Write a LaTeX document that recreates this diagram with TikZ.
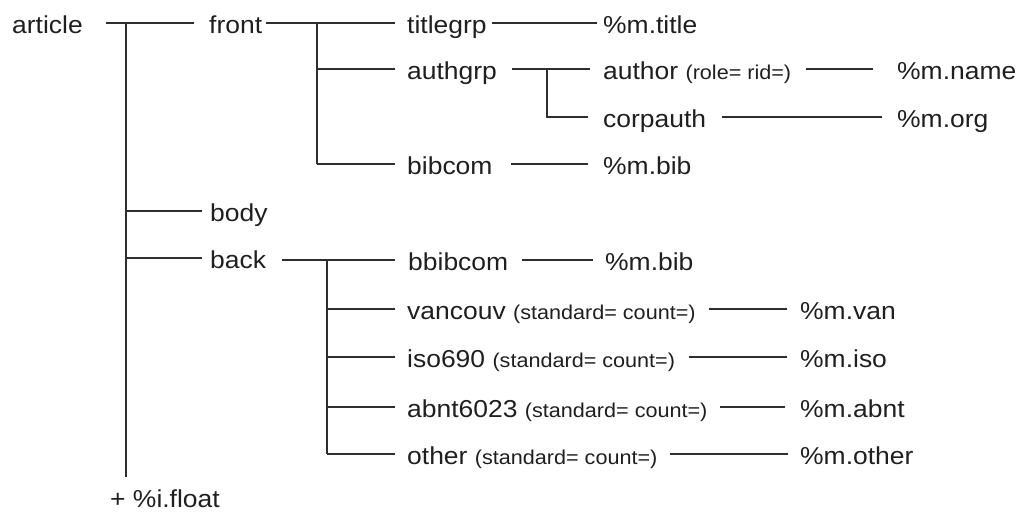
\documentclass[tikz,border=0pt]{standalone}
\usepackage{fontspec}
\setmainfont{Liberation Sans}[FakeStretch=1.08]
\newcommand\attr[1]{{\fontsize{20}{24}\selectfont #1}}
\begin{document}
\begin{tikzpicture}[x=1pt,y=-1pt,
  lbl/.style={anchor=west, inner sep=0pt, text height=21pt, text depth=0pt,
              text=black!88, font=\fontsize{24.5}{29}\selectfont},
  wire/.style={draw=black!82, line width=1.25pt}]
\useasboundingbox (0,0) rectangle (1031,515);

% element names
\node[lbl] (article)  at (12,23)   {article};
\node[lbl] (front)    at (209,23)  {front};
\node[lbl] (titlegrp) at (407,23)  {titlegrp};
\node[lbl] (mtitle)   at (603,23)  {\%m.title};
\node[lbl] (authgrp)  at (407,69)  {authgrp};
\node[lbl] (author)   at (603,69)  {author \attr{(role= rid=)}};
\node[lbl] (mname)    at (897,69)  {\%m.name};
\node[lbl] (corpauth) at (603,117) {corpauth};
\node[lbl] (morg)     at (897,117) {\%m.org};
\node[lbl] (bibcom)   at (407,164) {bibcom};
\node[lbl] (mbiba)    at (603,164) {\%m.bib};
\node[lbl] (body)     at (210,211) {body};
\node[lbl] (back)     at (210,258) {back};
\node[lbl] (bbibcom)  at (408,260) {bbibcom};
\node[lbl] (mbibb)    at (605,260) {\%m.bib};
\node[lbl] (vancouv)  at (407,309) {vancouv \attr{(standard= count=)}};
\node[lbl] (mvan)     at (800,309) {\%m.van};
\node[lbl] (iso)      at (407,357) {iso690 \attr{(standard= count=)}};
\node[lbl] (miso)     at (800,357) {\%m.iso};
\node[lbl] (abnt)     at (407,407) {abnt6023 \attr{(standard= count=)}};
\node[lbl] (mabnt)    at (800,407) {\%m.abnt};
\node[lbl] (other)    at (407,454) {other \attr{(standard= count=)}};
\node[lbl] (mother)   at (800,454) {\%m.other};
\node[lbl] (float)    at (110,497) {+ \%i.float};

% junction points of the tree
\coordinate (jA) at (126,23);
\coordinate (jF) at (317,23);
\coordinate (jG) at (547,69);
\coordinate (jB) at (327,260);
\coordinate (fl) at ([yshift=9pt]float.north);

% article level
\draw[wire] ([xshift=23pt]article.east) -- ([xshift=-15pt]front.west);
\draw[wire] (jA) -- (fl -| jA);
\draw[wire] (jA |- body.west) -- ([xshift=-8pt]body.west);
\draw[wire] (jA |- back.west) -- ([xshift=-8pt]back.west);

% front matter
\draw[wire] ([xshift=4pt]front.east) -- ([xshift=-12pt]titlegrp.west);
\draw[wire] (jF) -- (jF |- bibcom.west);
\draw[wire] (jF |- authgrp.west) -- ([xshift=-12pt]authgrp.west);
\draw[wire] (jF |- bibcom.west) -- ([xshift=-12pt]bibcom.west);
\draw[wire] ([xshift=5pt]titlegrp.east) -- ([xshift=-6pt]mtitle.west);
\draw[wire] ([xshift=15pt]authgrp.east) -- ([xshift=-13pt]author.west);
\draw[wire] (jG) -- (jG |- corpauth.west) -- ([xshift=-15pt]corpauth.west);
\draw[wire] ([xshift=15pt]author.east) -- ([xshift=-24pt]mname.west);
\draw[wire] ([xshift=16pt]corpauth.east) -- ([xshift=-15pt]morg.west);
\draw[wire] ([xshift=18pt]bibcom.east) -- ([xshift=-15pt]mbiba.west);

% back matter
\draw[wire] ([xshift=16pt]back.east |- jB) -- ([xshift=-13pt]bbibcom.west);
\draw[wire] (jB) -- (jB |- other.west);
\draw[wire] (jB |- vancouv.west) -- ([xshift=-12pt]vancouv.west);
\draw[wire] (jB |- iso.west) -- ([xshift=-12pt]iso.west);
\draw[wire] (jB |- abnt.west) -- ([xshift=-12pt]abnt.west);
\draw[wire] (jB |- other.west) -- ([xshift=-12pt]other.west);
\draw[wire] ([xshift=14pt]bbibcom.east) -- ([xshift=-12pt]mbibb.west);
\draw[wire] ([xshift=13pt]vancouv.east) -- ([xshift=-13pt]mvan.west);
\draw[wire] ([xshift=14pt]iso.east) -- ([xshift=-13pt]miso.west);
\draw[wire] ([xshift=12pt]abnt.east) -- ([xshift=-15pt]mabnt.west);
\draw[wire] ([xshift=12pt]other.east) -- ([xshift=-12pt]mother.west);
\end{tikzpicture}
\end{document}
